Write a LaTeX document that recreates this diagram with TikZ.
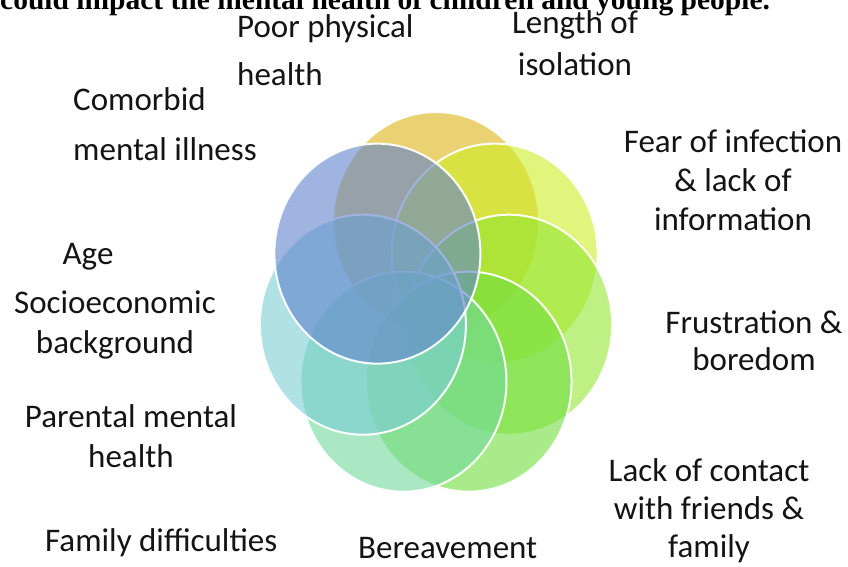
\documentclass[tikz,border=0pt]{standalone}
\usepackage{fontspec}
\setmainfont{Carlito}
\newfontfamily\titlefont{Liberation Serif}
\usetikzlibrary{shapes.geometric}
\definecolor{cgold}{RGB}{220,180,20}
\definecolor{cyg}{RGB}{205,238,35}
\definecolor{cgreen}{RGB}{147,230,50}
\definecolor{clgreen}{RGB}{113,222,63}
\definecolor{cmint}{RGB}{113,217,155}
\definecolor{ccyan}{RGB}{122,205,213}
\definecolor{cblue}{RGB}{97,130,205}
\newcommand\lsk[1]{\fontsize{33}{#1}\selectfont}
\tikzset{
  petal/.style={ellipse, minimum width=206pt, minimum height=220pt, inner sep=0pt,
    draw=white, line width=2pt, fill=#1, fill opacity=0.6, draw opacity=0.95},
  lbl/.style={inner sep=0pt, text=black!92, font=\lsk{#1}},
}
\begin{document}
\begin{tikzpicture}[x=1pt,y=-1pt]
\useasboundingbox (0,0) rectangle (848,566);
\clip (0,0) rectangle (848,566);
\fill[white] (0,0) rectangle (848,566);
% title line, cut at the top
\node[inner sep=0pt, anchor=base west, font=\titlefont\bfseries\fontsize{29.5}{30}\selectfont] (title) at (0,9) {could impact the mental health of children and young people.};
% petals
\foreach \k/\c in {0/cgold,1/cyg,2/cgreen,3/clgreen,4/cmint,5/ccyan,6/cblue}{
  \pgfmathsetmacro\ang{90-\k*360/7}
  \node[petal=\c] (p\k) at ({436+75*cos(\ang)},{306-84*sin(\ang)}) {};
}
% labels (anchor = baseline of the last line)
\node[lbl=48, anchor=base west, align=left] (phys) at (237,85) {Poor physical\\health};
\node[lbl=42, anchor=base, align=center] (iso) at (575,75) {Length of\\isolation};
\node[lbl=50, anchor=base west, align=left] (como) at (73,160) {Comorbid\\mental illness};
\node[lbl=39, anchor=base, align=center] (fear) at (733,230) {Fear of infection\\\& lack of\\information};
\node[lbl=40, anchor=base] (age) at (88,264) {Age};
\node[lbl=40, anchor=base, align=center] (socio) at (115,353) {Socioeconomic\\background};
\node[lbl=37, anchor=base, align=center] (frus) at (754,370) {Frustration \&\\boredom};
\node[lbl=40, anchor=base, align=center] (par) at (131,467) {Parental mental\\health};
\node[lbl=40, anchor=base west] (fam) at (45,551) {Family difficulties};
\node[lbl=40, anchor=base west] (ber) at (358,558) {Bereavement};
\node[lbl=38, anchor=base, align=center] (lack) at (709,557) {Lack of contact\\with friends \&\\family};
\end{tikzpicture}
\end{document}
